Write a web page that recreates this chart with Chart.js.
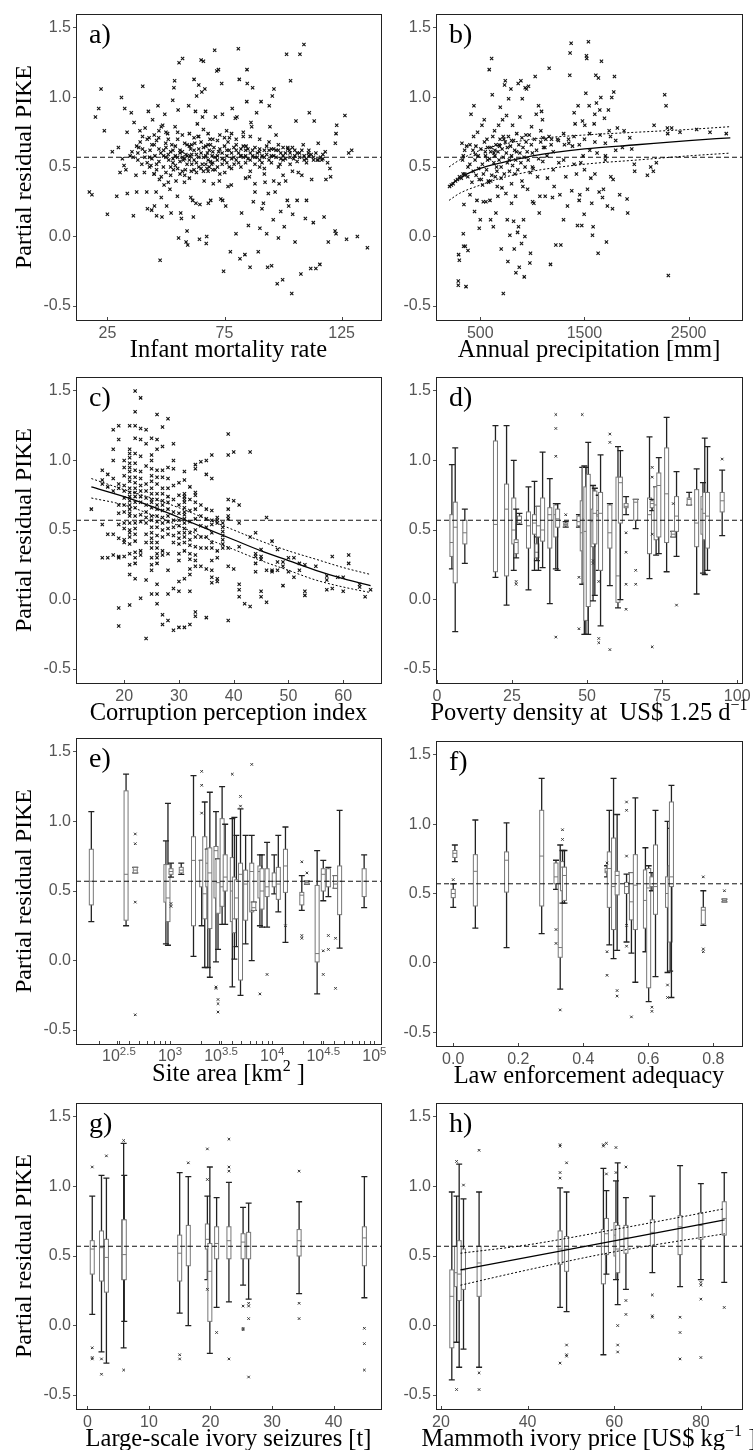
<!DOCTYPE html>
<html>
<head>
<meta charset="utf-8">
<script src="https://cdn.jsdelivr.net/npm/chart.js@4.4.1/dist/chart.umd.min.js"></script>
<style>
  html, body { margin: 0; padding: 0; background: #fff; }
  #wrap { position: relative; width: 753px; height: 1450px; overflow: hidden; background: #fff; }
  canvas { position: absolute; }
</style>
</head>
<body>
<div id="wrap">
  <canvas id="pa"></canvas><canvas id="pb"></canvas>
  <canvas id="pc"></canvas><canvas id="pd"></canvas>
  <canvas id="pe"></canvas><canvas id="pf"></canvas>
  <canvas id="pg"></canvas><canvas id="ph"></canvas>
</div>
<script>
// ---- shared axis values ----
const Y_TICKS = [-0.5, 0, 0.5, 1.0, 1.5];
const Y_MIN = -0.6, Y_MAX = 1.6;
const REF_Y = 0.57; // dashed reference line (mean partial residual)

// ---- tick labels per panel ----
const aTicks = [25, 75, 125];
const bTicks = [500, 1500, 2500];
const cTicks = [20, 30, 40, 50, 60];
const dTicks = [0, 25, 50, 75, 100];
const eTicks = [2.5, 3, 3.5, 4, 4.5, 5];           // log10 site area
const eTickLabels = ['2.5', '3', '3.5', '4', '4.5', '5'];
const fTicks = [0, 0.2, 0.4, 0.6, 0.8];
const gTicks = [0, 10, 20, 30, 40];
const hTicks = [20, 40, 60, 80];

// ---- a) infant mortality rate : partial residuals ----
const aPts = [
[17.3,0.32],[18.4,0.30],[19.9,0.86],[21.3,0.92],[22.3,1.06],[23.7,0.76],[25,0.16],[27.1,0.61],[29,0.29],[29.7,0.64],
[30.4,0.46],[31,1.0],[31.4,0.56],[32.1,0.51],[32.4,0.92],[32.9,0.48],[33.5,0.31],[33.4,0.75],[34.7,0.58],[35.2,0.89],
[35.5,0.61],[36.1,0.15],[36.4,0.82],[37.2,0.44],[37.5,0.32],[37.5,0.65],[38.4,0.64],[38.9,0.76],[40.1,1.08],[39.7,0.52],
[40.8,0.46],[41.1,0.78],[41.8,0.32],[42.1,0.20],[42.5,0.90],[42.8,0.71],[43.2,0.62],[43.6,0.51],[43.9,0.19],[44.3,0.84],
[44.9,0.45],[45.1,0.22],[45.3,0.58],[45.8,0.32],[46,0.15],[46.6,0.94],[46.9,0.71],[47.2,0.41],[47.5,-0.17],[47.8,0.60],
[48,0.28],[48.3,0.14],[48.6,0.80],[48.9,0.50],[49.2,0.37],[49.5,0.88],[49.9,0.67],[50.3,0.22],[50.7,0.74],[51.2,0.55],
[51.7,0.34],[52.2,0.17],[52.5,0.66],[52.9,0.98],[53.2,0.48],[53.4,1.07],[53.7,1.12],[53.9,0.79],[54.3,0.40],[54.9,0.29],
[55.2,0.91],[55.4,-0.01],[55.6,1.25],[56,0.60],[56.3,0.17],[56.6,0.13],[57.1,1.28],[57.4,0.55],[57.9,0.39],[58.3,0.48],
[58.6,-0.04],[59,0.04],[59.3,-0.06],[59.7,0.94],[60,0.65],[60.3,0.58],[60.6,0.28],[60.8,0.47],[61.4,0.26],[61.7,0.14],
[62,1.13],[62.3,0.67],[62.6,0.90],[62.8,0.24],[63.1,1.01],[63.4,0.81],[63.7,0.72],[64,1.09],[64.3,-0.02],[64.5,0.23],
[65,1.27],[65.3,1.04],[65.6,0.86],[66,1.26],[66.3,0.40],[66.6,1.06],[66.9,0.90],[67.2,-0.05],[67.4,0.0],[67.7,0.60],
[68.1,0.24],[68.5,0.50],[68.8,0.70],[69.1,0.26],[69.7,0.58],[70.2,0.38],[70.8,1.34],[71.1,0.86],[71.7,1.19],[71.9,0.55],
[72.4,1.20],[72.8,0.40],[73.4,0.27],[73.8,1.10],[74.1,0.88],[74.2,0.26],[74.6,-0.25],[75.1,0.46],[75.5,0.22],[75.9,0.76],
[76.5,0.36],[77.1,0.71],[77.5,-0.11],[77.9,0.37],[78.3,0.92],[79.1,0.52],[79.6,0.85],[79.9,0.02],[80.3,0.86],[80.9,1.35],
[81.3,1.13],[81.6,-0.16],[81.9,0.58],[82.3,0.17],[83,0.72],[83.7,-0.13],[84.2,0.65],[84.5,0.97],[84.6,1.20],[84.7,1.10],
[85.2,0.08],[85.6,0.43],[85.9,-0.22],[86.3,0.82],[86.6,0.79],[87,1.07],[87.3,0.25],[88,0.32],[88.7,0.89],[89.4,-0.11],
[89.9,0.61],[90.1,0.06],[90.6,0.97],[91,0.20],[91.6,0.24],[92.3,0.39],[93,0.02],[93.4,-0.22],[93.7,0.31],[94.1,0.94],
[94.4,0.79],[95.1,-0.21],[95.4,1.01],[95.8,0.12],[96.1,1.06],[96.6,0.32],[97,0.73],[97.5,-0.34],[98,-0.01],[98.3,0.38],
[98.7,0.52],[99,0.18],[99.8,-0.31],[100.5,0.07],[101.1,0.40],[101.5,1.31],[101.8,0.26],[102.4,0.22],[102.7,0.62],[103.2,1.12],
[103.7,-0.41],[104.1,0.16],[104.5,0.56],[105.1,-0.04],[105.5,0.83],[106,0.26],[106.5,0.46],[107.2,1.31],[107.6,-0.27],[108,0.44],
[108.6,0.66],[108.9,1.38],[109.5,0.13],[110,0.26],[110.8,0.60],[111.2,0.89],[111.8,-0.23],[112.2,0.41],[112.9,0.10],[113.3,0.83],
[114,-0.23],[114.6,0.55],[115,0.67],[115.7,-0.20],[116.5,0.55],[117.5,0.14],[118.3,0.41],[119.3,-0.04],[120,0.49],[120.3,0.43],
[122.2,0.04],[122.6,0.02],[122.6,0.74],[122.9,0.80],[122.3,0.67],[126.4,0.87],[127.1,-0.02],[128,0.60],[129.3,0.62],[131.7,0.0],[136,-0.08],
[45,0.66],[46,0.69],[47,0.63],[50,0.57],[51,0.59],[52,0.61],[53,0.56],[54,0.58],[55,0.57],[56,0.62],[57,0.57],[58,0.56],[58.5,0.59],
[59,0.52],[60.5,0.63],[61,0.66],[62,0.55],[63,0.59],[64,0.63],[65,0.68],[65.5,0.52],[66,0.57],[67,0.65],[67.5,0.49],[68,0.47],
[68.5,0.62],[69,0.66],[69.5,0.52],[70,0.48],[70.5,0.64],[71,0.57],[72,0.69],[72.5,0.61],[73,0.45],[74,0.52],[75,0.65],[76,0.58],
[76.5,0.68],[77,0.62],[78,0.56],[79,0.64],[80,0.66],[81,0.6],[82,0.63],[83,0.57],[84,0.62],[85,0.56],[86,0.6],[87,0.58],[88,0.64],
[89,0.57],[90,0.55],[91,0.58],[92,0.57],[93,0.65],[94,0.62],[95,0.58],[96,0.63],[97,0.57],[98,0.62],[99,0.56],[100,0.58],[101,0.6],
[102,0.63],[103,0.57],[104,0.64],[105,0.58],[106,0.6],[107,0.57],[108,0.62],[109,0.58],[110,0.56],[111,0.58],[112,0.59],[113,0.57],
[114,0.6],[116,0.57],[117,0.56],[118,0.61],[36,0.57],[38,0.6],[40,0.63],[41,0.57],[42,0.53],[43,0.5],[44,0.56],[45,0.45],[46,0.48],
[47,0.54],[48,0.43],[49,0.62],[50,0.46],[51,0.39],[52,0.5],[53,0.53],[54,0.65],[55,0.49],[56,0.54],[57,0.47],[58,0.44],[59,0.66],
[60,0.55],[61,0.52],[62,0.48],[63,0.53],[64,0.5],[65,0.49],[66,0.47],[67,0.52],[68,0.55],[70,0.53],[72,0.5],[74,0.56],[76,0.53],
[78,0.49],[80,0.55],[82,0.5],[84,0.53],[86,0.47],[88,0.52],[90,0.5],[92,0.49],[95,0.53],[98,0.5],[100,0.55],[103,0.52],[106,0.54],
[110,0.53],[115,0.55],[60,0.74],[62,0.71],[64,0.72],[66,0.77],[68,0.74],[70,0.7],[73,0.73],[75,0.71],[78,0.74],[80,0.7],[83,0.75],
[86,0.72],[90,0.7],[94,0.68],[98,0.66],[102,0.64],[50,0.75],[48,0.79],[45,0.73],[42,0.7],[40,0.72],[55,0.7],[57,0.73],
[38,0.55],[39,0.68],[41,0.61],[43,0.57],[44,0.66],[46,0.52],[47,0.76],[49,0.58],[50,0.64],[51,0.70],[52,0.44],[53,0.62],[54,0.51],
[55,0.75],[56,0.45],[57,0.61],[58,0.67],[59,0.58],[60,0.42],[61,0.59],[62,0.62],[63,0.46],[64,0.57],[65,0.60],[66,0.64],[67,0.58],
[68,0.66],[69,0.54],[70,0.61],[71,0.48],[72,0.58],[73,0.63],[74,0.60],[75,0.55],[76,0.62],[77,0.50],[78,0.60],[79,0.57],[80,0.62],
[81,0.53],[82,0.58],[83,0.65],[84,0.58],[85,0.63],[86,0.55],[87,0.62],[88,0.57],[89,0.60],[90,0.63],[91,0.53],[92,0.62],[93,0.59],
[94,0.55],[95,0.63],[96,0.58],[97,0.62],[99,0.60],[100,0.64],[101,0.56],[103,0.6],[105,0.62],[107,0.6],[109,0.55],[111,0.62],
[113,0.55],[117,0.59],[119,0.53],[84,0.42],[88,0.38],[92,0.45],[96,0.40],[100,0.44],[104,0.47]
];

// ---- b) annual precipitation [mm] ----
const bPts = [
[292,-0.13],[299,-0.17],[289,-0.32],[289,-0.35],[337,0.02],[340,-0.07],[356,-0.07],[363,-0.36],[382,-0.10],[324,0.67],
[337,0.58],[350,0.62],[343,0.23],[369,0.65],[382,0.50],[401,0.30],[401,0.66],[411,0.88],[433,0.47],[436,0.72],
[439,0.94],[445,0.18],[452,0.59],[458,0.65],[468,0.26],[474,0.75],[484,0.49],[490,0.06],[500,0.12],[510,0.41],
[516,0.80],[522,0.37],[529,0.25],[538,0.84],[548,0.61],[554,0.25],[564,0.70],[570,0.55],[577,0.40],[586,1.20],
[593,0.26],[599,0.12],[605,0.64],[609,1.28],[615,1.02],[625,0.07],[631,0.60],[637,0.76],[644,0.43],[650,0.17],
[656,0.50],[663,0.36],[669,0.29],[676,0.80],[685,0.65],[692,0.93],[701,-0.09],[708,0.35],[714,0.84],[721,-0.41],
[727,0.70],[733,1.09],[740,1.12],[746,0.31],[752,0.87],[759,0.12],[765,-0.18],[772,0.99],[778,0.55],[784,0.01],
[794,1.06],[800,0.24],[810,0.80],[820,0.11],[826,-0.09],[832,0.45],[839,0.29],[842,-0.26],[848,0.61],[858,0.03],
[864,1.10],[867,0.07],[874,-0.22],[880,0.86],[890,1.12],[896,-0.05],[903,0.99],[909,0.36],[915,0.12],[922,-0.29],
[928,0.00],[931,1.07],[938,0.73],[944,1.06],[954,0.34],[963,1.08],[976,-0.19],[982,-0.12],[992,0.79],[1002,0.25],
[1008,0.49],[1014,0.24],[1027,1.15],[1037,0.88],[1050,0.43],[1059,0.94],[1066,0.17],[1072,0.29],[1081,0.76],[1088,0.90],
[1097,0.84],[1107,0.64],[1123,0.29],[1129,0.70],[1145,0.42],[1161,1.21],[1174,-0.20],[1184,0.70],[1193,0.28],[1209,0.36],
[1225,-0.06],[1241,0.70],[1254,0.53],[1264,0.30],[1273,-0.06],[1299,0.12],[1308,0.66],[1321,0.43],[1337,0.22],[1347,0.70],
[1359,1.16],[1362,1.32],[1372,1.39],[1378,0.33],[1385,0.65],[1401,0.89],[1410,0.81],[1423,0.45],[1433,0.08],[1439,0.94],
[1449,0.26],[1455,0.30],[1465,0.53],[1474,0.08],[1481,0.83],[1487,0.58],[1497,0.16],[1503,0.80],[1513,1.03],[1519,1.30],
[1522,1.28],[1529,0.34],[1538,1.40],[1545,0.94],[1551,0.62],[1561,0.42],[1570,0.24],[1577,0.01],[1583,0.07],[1593,0.81],
[1599,0.88],[1609,1.16],[1615,0.96],[1621,0.60],[1631,-0.12],[1634,1.14],[1641,0.32],[1647,0.91],[1657,1.00],[1663,1.26],
[1673,0.28],[1682,0.34],[1692,0.85],[1701,0.58],[1711,-0.04],[1720,0.22],[1730,0.91],[1737,0.76],[1753,0.43],[1762,1.00],
[1769,0.20],[1775,0.41],[1781,1.04],[1788,1.15],[1800,0.62],[1816,0.78],[1838,0.30],[1864,0.64],[1880,0.76],[1909,0.27],
[1915,0.17],[1935,0.71],[1954,0.63],[1978,0.52],[1982,0.47],[2104,0.44],[2136,0.50],[2161,0.47],[2190,0.53],[2168,0.80],
[2270,1.02],[2283,0.94],[2296,0.78],[2305,-0.28],[2299,0.74],[2337,0.78],[2417,0.75],[2577,0.77],[2705,0.75],[2861,0.74],
[205,0.36],[222,0.37],[240,0.38],[262,0.40],[281,0.41],[300,0.43],[318,0.42],[335,0.45],[352,0.44],
[330,0.55],[350,0.45],[380,0.43],[400,0.52],[420,0.39],[430,0.62],[450,0.55],[460,0.44],[480,0.58],[490,0.41],[505,0.63],
[520,0.52],[530,0.45],[540,0.68],[550,0.58],[560,0.48],[570,0.64],[580,0.39],[590,0.56],[600,0.61],[610,0.44],[620,0.72],
[630,0.53],[640,0.58],[650,0.66],[660,0.47],[670,0.61],[680,0.55],[690,0.70],[700,0.50],[710,0.63],[720,0.57],[730,0.45],
[740,0.68],[750,0.60],[760,0.53],[770,0.72],[780,0.47],[790,0.65],[800,0.58],[810,0.51],[820,0.69],[830,0.62],[840,0.55],
[850,0.74],[860,0.48],[870,0.66],[880,0.60],[890,0.53],[900,0.71],[910,0.64],[920,0.57],[930,0.50],[940,0.68],[950,0.61],
[960,0.55],[970,0.73],[980,0.46],[990,0.66],[1000,0.60],[1020,0.70],[1040,0.62],[1060,0.56],[1080,0.68],[1100,0.71],[1120,0.64],
[1140,0.58],[1160,0.72],[1180,0.66],[1200,0.61],[1250,0.69],[1300,0.74],[1350,0.67],[1400,0.72],[1450,0.66],[1500,0.70],[1550,0.74],
[1600,0.68],[1650,0.73],[1700,0.67],[1750,0.72],[1800,0.69],[640,0.62],[680,0.66],[720,0.72],[760,0.64],[800,0.69],[600,0.40],
[700,0.42],[800,0.38],[900,0.40],[1000,0.50],[1100,0.54],[1200,0.48],[1300,0.55],[1400,0.52],[1500,0.48],[1600,0.45],[1700,0.55]
];
const bFit   = [[200,0.36],[300,0.42],[400,0.46],[500,0.49],[700,0.53],[1000,0.58],[1500,0.63],[2000,0.66],[2500,0.69],[2900,0.71]];
const bUpper = [[200,0.50],[300,0.55],[500,0.62],[700,0.66],[1000,0.70],[1500,0.73],[2000,0.75],[2500,0.77],[2900,0.79]];
const bLower = [[200,0.26],[300,0.31],[500,0.37],[700,0.42],[1000,0.47],[1500,0.52],[2000,0.55],[2500,0.58],[2900,0.60]];

// ---- c) corruption perception index (integer scores, residuals per score) ----
const cCols = [
[14,[0.65]],
[16,[0.93,0.86,0.83,0.54,0.30]],
[17,[0.90,0.81,0.47,0.30]],
[18,[1.22,1.08,1.00,0.87,0.78,0.47,0.32]],
[19,[1.25,1.15,0.83,0.80,0.68,0.62,0.54,0.44,0.31,0.30,-0.06,-0.19]],
[20,[1.00,0.95,0.89,0.82,0.78,0.73,0.68,0.63,0.55,0.51,0.43,0.41,0.31]],
[21,[1.25,1.08,1.05,1.02,0.98,0.95,0.92,0.88,0.85,0.80,0.77,0.74,0.71,0.68,0.65,0.62,0.60,0.55,0.50,0.48,0.45,0.40,0.33,0.25,0.18,-0.04]],
[22,[1.50,1.35,1.25,1.16,1.05,0.98,0.93,0.88,0.84,0.80,0.77,0.74,0.70,0.66,0.60,0.55,0.51,0.47,0.42,0.34,0.30,0.26,0.15]],
[23,[1.45,1.23,1.15,1.03,0.92,0.87,0.82,0.78,0.74,0.70,0.61,0.56,0.35,0.32,0.01]],
[24,[1.22,1.12,0.96,0.83,0.78,0.73,0.68,0.63,0.59,0.55,0.47,0.41,0.14,-0.28]],
[25,[1.16,1.04,1.00,0.94,0.89,0.85,0.80,0.76,0.72,0.70,0.66,0.60,0.57,0.52,0.48,0.44,0.41,0.37,0.30,0.25,0.21,0.04]],
[26,[1.33,1.15,1.08,0.93,0.88,0.83,0.76,0.72,0.68,0.65,0.60,0.56,0.52,0.46,0.41,0.37,0.33,0.30,0.26,0.11,0.04,-0.03]],
[27,[1.24,1.10,0.93,0.88,0.80,0.76,0.71,0.68,0.64,0.59,0.55,0.50,0.45,0.35,0.32,-0.11,-0.18]],
[28,[1.30,0.95,0.87,0.80,0.74,0.70,0.65,0.60,0.56,0.51,0.47,0.33,0.21,0.04,-0.15]],
[29,[1.12,1.00,0.94,0.82,0.72,0.63,0.57,0.52,0.46,0.41,0.08,-0.22]],
[30,[0.84,0.75,0.68,0.62,0.57,0.53,0.48,0.44,0.40,0.33,0.28,0.13,0.06,-0.20]],
[31,[0.92,0.86,0.76,0.74,0.72,0.70,0.66,0.63,0.61,0.58,0.55,0.51,0.48,0.45,0.41,0.35,0.15,-0.20]],
[32,[0.81,0.72,0.64,0.56,0.48,0.43,0.39,0.33,0.29,0.22,0.18,0.06,-0.18]],
[33,[0.97,0.94,0.77,0.75,0.70,0.65,0.58,0.50,0.45,0.38,0.32,0.28,0.24,-0.09,-0.12]],
[34,[0.99,0.68,0.60,0.53,0.45,0.37,0.24]],
[35,[1.00,0.90,0.65,0.58,0.52,0.45,0.37,0.22,-0.13]],
[36,[1.04,0.87,0.64,0.57,0.54,0.48,0.41,0.37,0.28,0.21,0.16,0.12]],
[37,[0.59,0.57,0.55,0.35,0.30,0.15,0.13]],
[38,[0.55,0.52,0.49,0.46,0.43,0.40,0.37]],
[39,[1.19,1.04,0.72,0.65,0.60,0.58,0.37,0.24,-0.15]],
[40,[1.06,0.71,0.22]],
[41,[0.68,0.55,0.38,0.11,0.07,0.02]],
[42,[-0.03]],
[43,[1.06,0.45,-0.05]],
[44,[0.48,0.33,0.31,0.26,0.20]],
[45,[0.36,0.31,0.29,0.06,0.02]],
[46,[0.59,0.21,-0.02]],
[47,[0.42,0.21,0.20]],
[48,[0.36,0.27,0.21]],
[49,[0.27,0.24,0.10]],
[50,[0.30,0.20]],
[51,[0.30,0.16]],
[52,[0.26,0.21]],
[53,[0.25,0.06,0.03]],
[55,[0.24]],
[57,[0.17,0.14,0.07]],
[58,[0.31,0.08]],
[59,[0.16]],
[60,[0.16,0.06]],
[61,[0.32,0.26]],
[63,[0.11,0.09]],
[64,[0.02]],
[65,[0.07]]
];
const cFit   = [[14,0.81],[20,0.74],[25,0.67],[30,0.59],[35,0.51],[40,0.43],[45,0.35],[50,0.28],[55,0.21],[60,0.15],[65,0.10]];
const cUpper = [[14,0.87],[20,0.79],[25,0.73],[30,0.66],[35,0.58],[40,0.50],[45,0.42],[50,0.35],[55,0.29],[60,0.23],[65,0.18]];
const cLower = [[14,0.73],[20,0.68],[25,0.61],[30,0.53],[35,0.44],[40,0.36],[45,0.28],[50,0.21],[55,0.14],[60,0.09],[65,0.05]];

// ---- boxplots: [x, whiskerLow, q1, median, q3, whiskerHigh, outliers] ----
const dBoxes = [
[5.0,0.22,0.31,0.41,0.61,0.97,[]],[6.1,-0.23,0.12,0.52,0.70,1.09,[]],[9.3,0.26,0.40,0.48,0.57,0.65,[]],
[19.5,0.16,0.20,0.54,1.14,1.25,[]],[23.2,-0.04,0.17,0.65,0.83,1.25,[]],[25.6,0.21,0.40,0.50,0.73,1.00,[]],
[26.4,0.30,0.33,0.41,0.43,0.65,[0.13,0.11]],[27.5,0.54,0.55,0.57,0.60,0.62,[]],[30.5,0.07,0.37,0.53,0.63,0.81,[]],
[32.5,0.21,0.47,0.55,0.61,0.85,[]],[33.3,0.28,0.30,0.34,0.40,0.45,[]],[33.8,0.21,0.45,0.53,0.67,0.67,[]],
[35.2,0.23,0.42,0.50,0.73,1.06,[]],[37.6,-0.03,0.37,0.61,0.66,0.87,[]],[39.6,0.22,0.45,0.61,0.68,0.69,[1.33,1.23,1.03,-0.27]],
[40.2,0.21,0.52,0.58,0.65,0.69,[]],[42.9,0.52,0.53,0.54,0.55,0.56,[0.61]],[47.3,0.52,0.53,0.56,0.60,0.61,[0.16,-0.21]],
[48.4,0.11,0.35,0.48,0.71,0.95,[1.33]],[49.1,-0.25,0.12,0.58,0.95,0.96,[]],[49.6,-0.25,-0.15,0.49,0.81,0.95,[]],
[50.4,-0.25,-0.05,0.57,0.90,1.13,[]],[52.0,-0.01,0.38,0.56,0.65,0.82,[0.28,0.26]],[52.6,0.03,0.40,0.62,0.78,0.80,[]],
[53.9,0.21,0.60,0.61,0.64,0.75,[0.13,-0.28,-0.31]],[54.5,-0.19,0.21,0.62,0.77,1.04,[]],[57.6,0.10,0.37,0.48,0.68,0.69,[1.19,1.13,-0.36]],
[60.3,-0.06,-0.02,0.17,0.88,1.10,[]],[61.1,0.00,0.55,0.84,0.88,1.07,[]],[63.0,0.61,0.66,0.67,0.69,0.74,[0.48,0.34,0.11,-0.07]],
[66.2,0.51,0.57,0.70,0.72,0.72,[0.21,0.11]],[70.8,0.15,0.33,0.61,0.73,1.17,[]],[71.7,0.64,0.66,0.69,0.71,0.72,[0.95,0.88,0.47,-0.34]],
[73.0,0.32,0.43,0.68,0.81,0.81,[]],[73.9,0.33,0.45,0.82,0.91,1.02,[]],[76.5,0.20,0.41,0.76,1.09,1.31,[]],
[78.7,0.45,0.45,0.47,0.49,0.49,[0.69]],[79.8,0.31,0.49,0.60,0.74,0.92,[-0.04]],[84.0,0.68,0.68,0.72,0.73,0.77,[]],
[86.5,0.04,0.38,0.55,0.79,0.94,[]],[88.6,0.19,0.47,0.65,0.74,0.84,[]],[89.2,0.18,0.43,0.62,0.77,1.16,[]],
[90.1,0.21,0.37,0.60,0.77,1.10,[]],[95.0,0.46,0.63,0.71,0.77,0.93,[1.01]]
];
const eBoxes = [
[2.23,0.28,0.40,0.57,0.80,1.07,[]],[2.57,0.25,0.29,0.62,1.22,1.34,[]],[2.66,0.63,0.63,0.65,0.67,0.67,[0.91,0.84,0.42,-0.39]],
[2.96,0.12,0.42,0.57,0.69,0.86,[]],[2.98,0.11,0.28,0.45,0.69,1.13,[]],[3.01,0.60,0.62,0.64,0.66,0.70,[0.41,0.39]],
[3.11,0.62,0.63,0.65,0.67,0.70,[]],[3.23,0.03,0.25,0.72,0.89,1.33,[]],[3.31,0.25,0.53,0.57,0.72,0.72,[1.36,1.26,1.06]],
[3.34,-0.05,0.30,0.48,0.89,1.14,[]],[3.37,-0.05,0.53,0.70,0.80,0.80,[]],[3.39,-0.12,0.23,0.63,0.81,1.21,[]],
[3.45,-0.01,0.45,0.79,0.82,1.07,[-0.19,-0.20]],[3.47,0.08,0.34,0.56,0.73,0.73,[-0.37,-0.28,-0.31]],[3.51,0.26,0.39,0.53,1.02,1.25,[]],
[3.54,0.26,0.50,0.60,0.76,0.98,[]],[3.61,-0.19,0.28,0.50,0.74,1.02,[1.34]],[3.63,0.01,0.20,0.30,0.60,1.03,[]],
[3.65,0.10,0.30,0.45,0.58,0.90,[]],[3.69,-0.25,-0.14,0.62,0.70,1.09,[1.18,1.11]],[3.74,0.12,0.29,0.55,0.65,0.90,[]],
[3.80,0.00,0.35,0.64,0.70,0.90,[1.41]],[3.82,0.36,0.36,0.38,0.42,0.42,[]],[3.88,0.25,0.45,0.64,0.68,0.76,[-0.24]],
[3.90,0.24,0.37,0.50,0.66,0.76,[]],[3.95,0.24,0.46,0.53,0.66,0.85,[-0.10]],[4.02,0.48,0.53,0.57,0.63,0.76,[]],
[4.06,0.35,0.44,0.55,0.67,0.90,[]],[4.13,0.13,0.49,0.68,0.80,0.96,[0.25]],[4.29,0.36,0.40,0.47,0.49,0.61,[0.71,0.18,0.16]],
[4.34,0.55,0.55,0.56,0.57,0.57,[0.63]],[4.44,-0.24,-0.01,0.05,0.54,0.79,[]],[4.50,0.43,0.50,0.62,0.66,0.72,[0.07,-0.10]],
[4.55,0.46,0.53,0.57,0.66,0.67,[0.18,0.08]],[4.62,0.52,0.52,0.55,0.61,0.61,[0.16,-0.20]],[4.66,0.09,0.33,0.57,0.68,1.08,[]],
[4.90,0.38,0.46,0.57,0.66,0.76,[]]
];
const fBoxes = [
[0.000,0.40,0.47,0.50,0.53,0.57,[0.60]],[0.005,0.73,0.76,0.79,0.81,0.85,[]],[0.068,0.25,0.41,0.66,0.78,1.03,[]],
[0.164,0.11,0.51,0.74,0.80,1.01,[]],[0.272,0.21,0.41,0.77,1.10,1.33,[]],[0.316,0.53,0.57,0.62,0.72,0.74,[0.24,0.14]],
[0.329,-0.19,0.04,0.11,0.57,0.85,[-0.34]],[0.336,0.43,0.52,0.69,0.73,0.81,[0.96,0.89]],[0.342,0.43,0.45,0.63,0.69,0.81,[]],
[0.473,0.62,0.65,0.66,0.68,0.70,[0.72,0.08,-0.09]],[0.480,0.13,0.40,0.68,0.80,1.10,[]],[0.493,0.03,0.24,0.55,0.90,1.33,[]],
[0.504,0.09,0.49,0.63,0.66,1.07,[-0.20,-0.24]],[0.533,0.15,0.50,0.55,0.58,0.64,[1.16,1.10,0.77,0.27,0.12]],
[0.548,0.07,0.31,0.44,0.65,0.65,[-0.39]],[0.560,-0.14,0.24,0.56,0.78,1.19,[]],[0.591,0.08,0.25,0.45,0.67,0.83,[]],
[0.601,-0.28,-0.18,0.54,0.68,0.70,[]],[0.611,0.52,0.55,0.57,0.62,0.65,[-0.32,-0.35]],[0.622,-0.10,0.35,0.55,0.85,1.10,[]],
[0.659,-0.07,0.40,0.50,0.62,1.02,[-0.16,-0.25]],[0.667,-0.06,0.15,0.60,0.70,0.97,[]],[0.671,-0.25,0.55,0.62,1.16,1.28,[]],
[0.769,0.27,0.28,0.38,0.40,0.52,[0.62,0.10,0.08]],[0.834,0.44,0.44,0.45,0.46,0.46,[0.52]]
];
const gBoxes = [
[0.8,0.08,0.37,0.55,0.61,0.93,[1.14,-0.16,-0.23,-0.24]],[2.3,-0.19,0.32,0.56,0.68,1.08,[-0.24,-0.35]],
[3.1,-0.27,0.24,0.49,0.62,1.06,[1.22]],[5.9,-0.16,0.33,0.51,0.76,1.31,[1.33,-0.32]],[6.0,0.03,0.33,0.51,0.76,1.08,[]],
[15.0,0.09,0.32,0.52,0.65,1.10,[-0.21,-0.24]],[16.4,0.00,0.43,0.57,0.72,1.07,[1.17]],
[19.5,0.33,0.55,0.62,0.73,0.93,[1.27,1.05,0.26]],[19.9,-0.20,0.03,0.39,0.59,1.14,[]],
[21.0,0.13,0.48,0.59,0.71,0.92,[-0.05]],[23.0,0.17,0.48,0.61,0.71,1.03,[1.34,1.14,1.11,-0.24]],
[25.3,0.29,0.48,0.60,0.66,0.85,[0.14,-0.02,-0.03]],[26.2,0.19,0.48,0.57,0.67,0.88,[0.16,0.14,0.05,-0.37]],
[34.4,0.23,0.50,0.61,0.69,0.89,[1.11,0.16,0.05]],[45.0,0.20,0.43,0.63,0.71,1.07,[-0.02,-0.13,-0.32]]
];
const hBoxes = [
[22.5,-0.39,-0.16,0.21,0.40,0.96,[]],[23.6,-0.12,0.28,0.38,0.57,0.93,[1.18,-0.46]],[24.2,-0.30,0.18,0.37,0.61,1.16,[]],
[25.2,-0.17,0.26,0.40,0.55,0.91,[1.01]],[28.8,-0.30,0.21,0.45,0.57,0.96,[1.26,-0.34,-0.46]],
[47.5,0.13,0.44,0.55,0.68,0.99,[1.30,1.29,1.10,1.06,-0.27]],[49.0,0.10,0.39,0.55,0.64,0.96,[1.17,-0.14,-0.21,-0.22]],
[57.5,-0.21,0.30,0.57,0.69,1.13,[1.29,1.30]],[58.2,0.37,0.51,0.66,0.77,0.97,[1.09,1.31]],
[60.4,0.33,0.50,0.65,0.74,1.04,[1.28,1.10]],[60.8,0.15,0.38,0.55,0.72,1.17,[0.00,-0.14,-0.19]],
[62.7,0.26,0.52,0.63,0.72,0.92,[1.14,0.18,0.08]],[68.8,0.38,0.57,0.67,0.76,0.93,[0.22,0.07,0.06]],
[75.2,0.28,0.51,0.71,0.79,1.15,[0.06,-0.05,-0.24]],[80.0,0.33,0.62,0.72,0.81,1.02,[0.31,0.29,0.19,-0.23]],
[85.4,0.31,0.65,0.77,0.89,1.10,[0.13]]
];
const hFit   = [[24.5,0.40],[85.5,0.76]];
const hUpper = [[24.5,0.52],[40,0.58],[60,0.69],[85.5,0.84]];
const hLower = [[24.5,0.29],[40,0.40],[60,0.53],[85.5,0.66]];

// =================================================================
const SANS = '"Liberation Sans", Arial, sans-serif';
const SERIF = '"Liberation Serif", "Times New Roman", serif';
const TICK_SIZE = 16;

function richText(ctx, parts, cx, base, size, supSize, rise, family, color) {
    let w = 0;
    parts.forEach(p => { ctx.font = (p[1] ? supSize : size) + 'px ' + family; w += ctx.measureText(p[0]).width; });
    let x = cx - w / 2;
    ctx.fillStyle = color;
    ctx.textAlign = 'left';
    ctx.textBaseline = 'alphabetic';
    parts.forEach(p => {
        ctx.font = (p[1] ? supSize : size) + 'px ' + family;
        ctx.fillText(p[0], x, p[1] ? base - rise : base);
        x += ctx.measureText(p[0]).width;
    });
}

// boxes under the data, frame / titles / letter on top
function decor(cfg) {
    return {
        id: 'decor',
        beforeDatasetsDraw(chart) {
            if (!cfg.boxes) return;
            const {ctx, scales: {x, y}} = chart;
            ctx.save();
            cfg.boxes.forEach(b => {
                const px = x.getPixelForValue(b[0]);
                const lo = y.getPixelForValue(b[1]), q1 = y.getPixelForValue(b[2]);
                const md = y.getPixelForValue(b[3]), q3 = y.getPixelForValue(b[4]);
                const hi = y.getPixelForValue(b[5]);
                ctx.strokeStyle = '#222';
                ctx.lineWidth = 1.3;
                ctx.beginPath();
                ctx.moveTo(px, lo); ctx.lineTo(px, hi);
                ctx.moveTo(px - 3, lo); ctx.lineTo(px + 3, lo);
                ctx.moveTo(px - 3, hi); ctx.lineTo(px + 3, hi);
                ctx.stroke();
                ctx.fillStyle = '#fff';
                ctx.fillRect(px - 2, q3, 4, q1 - q3);
                ctx.strokeStyle = '#777';
                ctx.lineWidth = 1;
                ctx.strokeRect(px - 2, q3, 4, q1 - q3);
                ctx.beginPath();
                ctx.moveTo(px - 2, md); ctx.lineTo(px + 2, md);
                ctx.stroke();
            });
            ctx.restore();
        },
        afterDraw(chart) {
            const {ctx, chartArea: ca, scales: {x}} = chart;
            ctx.save();
            // inward x tick marks
            ctx.strokeStyle = '#444';
            ctx.lineWidth = 1;
            ctx.beginPath();
            x.ticks.forEach(t => {
                const px = Math.round(x.getPixelForValue(t.value)) + 0.5;
                ctx.moveTo(px, ca.bottom);
                ctx.lineTo(px, ca.bottom - 3);
            });
            ctx.stroke();
            // frame
            ctx.strokeStyle = '#222';
            ctx.strokeRect(Math.round(ca.left) + 0.5, Math.round(ca.top) + 0.5,
                Math.round(ca.right - ca.left), Math.round(ca.bottom - ca.top));
            // power-of-ten labels (site area)
            if (cfg.supTicks) {
                cfg.supTicks.forEach((v, i) => {
                    richText(ctx, [['10'], [cfg.supLabels[i], 1]], x.getPixelForValue(v),
                        ca.bottom + 17, TICK_SIZE, 11.5, 6, SANS, '#555');
                });
            }
            // panel letter
            ctx.fillStyle = '#000';
            ctx.font = '28px ' + SERIF;
            ctx.textAlign = 'left';
            ctx.textBaseline = 'alphabetic';
            ctx.fillText(cfg.letter, ca.left + 13, ca.top + 29);
            // x axis title
            richText(ctx, cfg.title, (ca.left + ca.right) / 2, ca.bottom + 37, 24.5, 16, 10, SERIF, '#000');
            ctx.restore();
        }
    };
}

function makePanel(id, g, cfg) {
    const cv = document.getElementById(id);
    cv.width = g.cw;
    cv.height = g.ch;
    cv.style.left = g.cx + 'px';
    cv.style.top = g.cy + 'px';
    const yw = g.left - g.cx;
    const xh = g.cy + g.ch - g.bottom;

    const datasets = [{
        data: [{x: cfg.xMin, y: REF_Y}, {x: cfg.xMax, y: REF_Y}],
        showLine: true, borderColor: '#111', borderWidth: 1, borderDash: [5, 3],
        pointRadius: 0, order: 1
    }];
    if (cfg.pts) datasets.push({
        data: cfg.pts.map(p => ({x: p[0], y: p[1]})),
        pointStyle: 'crossRot', pointRadius: 2.3, pointBorderWidth: 1.1,
        pointBorderColor: '#111', pointBackgroundColor: '#111', order: 0
    });
    if (cfg.boxes) datasets.push({
        data: cfg.boxes.flatMap(b => b[6].map(v => ({x: b[0], y: v}))),
        pointStyle: 'crossRot', pointRadius: 1.8, pointBorderWidth: 1,
        pointBorderColor: '#333', pointBackgroundColor: '#333', order: 0
    });
    (cfg.fits || []).forEach(f => datasets.push({
        data: f.pts.map(p => ({x: p[0], y: p[1]})),
        showLine: true, borderColor: '#000', borderWidth: f.dash ? 1 : 1.3,
        borderDash: f.dash ? [2, 2] : [], pointRadius: 0,
        cubicInterpolationMode: 'monotone', order: 0
    }));

    new Chart(cv, {
        type: 'scatter',
        data: {datasets},
        options: {
            responsive: false,
            animation: false,
            devicePixelRatio: 1,
            events: [],
            layout: {padding: {left: 0, top: g.top - g.cy, right: g.cx + g.cw - g.right, bottom: 0}},
            plugins: {legend: {display: false}, tooltip: {enabled: false}},
            scales: {
                x: {
                    type: 'linear', min: cfg.xMin, max: cfg.xMax,
                    afterBuildTicks: s => { s.ticks = cfg.xTicks.map(v => ({value: v})); },
                    afterFit: s => { s.height = xh; s.paddingLeft = 0; s.paddingRight = 0; },
                    grid: {display: false, drawTicks: false},
                    border: {display: false},
                    ticks: {
                        autoSkip: false, maxRotation: 0, padding: 4, color: '#555',
                        font: {family: SANS, size: TICK_SIZE}, callback: cfg.xFmt || (v => String(v))
                    }
                },
                y: {
                    type: 'linear', min: Y_MIN, max: Y_MAX,
                    afterBuildTicks: s => { s.ticks = Y_TICKS.map(v => ({value: v})); },
                    afterFit: s => { s.width = yw; s.paddingTop = 0; s.paddingBottom = 0; },
                    grid: {drawOnChartArea: false, drawTicks: true, tickLength: 3, color: '#555'},
                    border: {display: false},
                    ticks: {padding: 2, color: '#555', font: {family: SANS, size: TICK_SIZE}, callback: v => v.toFixed(1)},
                    title: {
                        display: !!cfg.yTitle, text: 'Partial residual PIKE', color: '#000',
                        font: {family: SERIF, size: 24}, padding: {top: 10, bottom: 0}
                    }
                }
            }
        },
        plugins: [decor(cfg)]
    });
}

// page geometry of each panel (canvas box + plot frame)
const L = {cx: 0, cw: 390, left: 76, right: 381};
const R = {cx: 390, cw: 363, left: 436, right: 742};

// minor ticks on the log axis (2..9 x 10^n)
const eMinor = [];
[2, 3, 4].forEach(n => { for (let k = 2; k <= 9; k++) eMinor.push(Math.log10(k * Math.pow(10, n))); });

function drawAll() {
    makePanel('pa', {...L, cy: 0, ch: 365, top: 14, bottom: 320}, {
        letter: 'a)', yTitle: true, title: [['Infant mortality rate']],
        xMin: 11.6, xMax: 141.8, xTicks: aTicks, pts: aPts
    });
    makePanel('pb', {...R, cy: 0, ch: 365, top: 14, bottom: 320}, {
        letter: 'b)', title: [['Annual precipitation [mm]']],
        xMin: 75, xMax: 3012, xTicks: bTicks, pts: bPts,
        fits: [{pts: bFit}, {pts: bUpper, dash: true}, {pts: bLower, dash: true}]
    });
    makePanel('pc', {...L, cy: 365, ch: 365, top: 377, bottom: 683}, {
        letter: 'c)', yTitle: true, title: [['Corruption perception index']],
        xMin: 11.2, xMax: 66.9, xTicks: cTicks,
        pts: cCols.flatMap(c => c[1].map(v => [c[0], v])),
        fits: [{pts: cFit}, {pts: cUpper, dash: true}, {pts: cLower, dash: true}]
    });
    makePanel('pd', {...R, cy: 365, ch: 365, top: 377, bottom: 683}, {
        letter: 'd)', title: [['Poverty density at  US$ 1.25 d'], ['\u22121', 1]],
        xMin: -0.3, xMax: 101.6, xTicks: dTicks, boxes: dBoxes
    });
    makePanel('pe', {...L, cy: 730, ch: 360, top: 738, bottom: 1044}, {
        letter: 'e)', yTitle: true, title: [['Site area [km'], ['2', 1], [' ]']],
        xMin: 2.08, xMax: 5.065, xTicks: eTicks.concat(eMinor), xFmt: () => '',
        supTicks: eTicks, supLabels: eTickLabels, boxes: eBoxes
    });
    makePanel('pf', {...R, cy: 730, ch: 360, top: 741, bottom: 1046}, {
        letter: 'f)', title: [['Law enforcement adequacy']],
        xMin: -0.053, xMax: 0.888, xTicks: fTicks, xFmt: v => v.toFixed(1), boxes: fBoxes
    });
    makePanel('pg', {...L, cy: 1090, ch: 360, top: 1103, bottom: 1409}, {
        letter: 'g)', yTitle: true, title: [['Large-scale ivory seizures [t]']],
        xMin: -1.84, xMax: 47.7, xTicks: gTicks, boxes: gBoxes
    });
    makePanel('ph', {...R, cy: 1090, ch: 360, top: 1103, bottom: 1409}, {
        letter: 'h)', title: [['Mammoth ivory price [US$ kg'], ['\u22121', 1], [' ]']],
        xMin: 18.85, xMax: 89.5, xTicks: hTicks, boxes: hBoxes,
        fits: [{pts: hFit}, {pts: hUpper, dash: true}, {pts: hLower, dash: true}]
    });
}

drawAll();
</script>
</body>
</html>
